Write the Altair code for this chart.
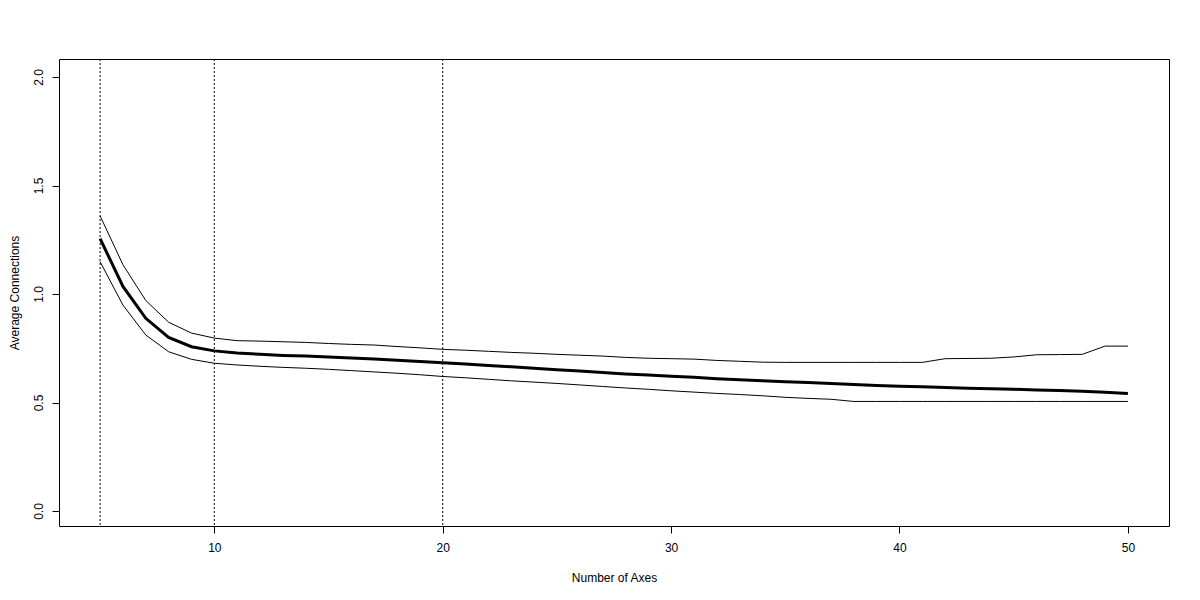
import altair as alt
import pandas as pd

x_vals = list(range(5, 51))

mean_vals = [1.255, 1.035, 0.888, 0.800, 0.757, 0.738, 0.728, 0.722, 0.717, 0.714,
             0.710, 0.705, 0.700, 0.695, 0.689, 0.683, 0.677, 0.671, 0.665, 0.658,
             0.651, 0.645, 0.638, 0.632, 0.627, 0.621, 0.616, 0.610, 0.605, 0.600,
             0.596, 0.592, 0.588, 0.583, 0.578, 0.575, 0.573, 0.569, 0.566, 0.564,
             0.561, 0.558, 0.555, 0.552, 0.547, 0.542]

upper_vals = [1.360, 1.135, 0.970, 0.870, 0.820, 0.797, 0.785, 0.783, 0.780, 0.777,
              0.772, 0.768, 0.765, 0.758, 0.752, 0.745, 0.741, 0.736, 0.731, 0.727,
              0.722, 0.718, 0.714, 0.708, 0.704, 0.702, 0.700, 0.694, 0.690, 0.686,
              0.685, 0.685, 0.685, 0.685, 0.685, 0.685, 0.685, 0.702, 0.703, 0.704,
              0.710, 0.720, 0.721, 0.722, 0.760, 0.760]

lower_vals = [1.149, 0.949, 0.811, 0.734, 0.699, 0.681, 0.673, 0.667, 0.662, 0.658,
              0.653, 0.647, 0.641, 0.635, 0.628, 0.620, 0.614, 0.607, 0.600, 0.594,
              0.588, 0.581, 0.574, 0.567, 0.561, 0.554, 0.548, 0.542, 0.537, 0.531,
              0.524, 0.519, 0.515, 0.505, 0.505, 0.505, 0.505, 0.505, 0.505, 0.505,
              0.505, 0.505, 0.505, 0.505, 0.505, 0.505]

vlines = [5, 10, 20]

x_ticks = [10, 20, 30, 40, 50]
y_ticks = [0.0, 0.5, 1.0, 1.5, 2.0]

mean_df = pd.DataFrame({"x": x_vals, "y": mean_vals})
bounds_df = pd.concat([
    pd.DataFrame({"x": x_vals, "y": upper_vals, "s": "upper"}),
    pd.DataFrame({"x": x_vals, "y": lower_vals, "s": "lower"}),
])
vl_df = pd.DataFrame({"x": vlines})

FONT = "Liberation Sans"

xscale = alt.Scale(domain=[3.2, 51.8], nice=False, zero=False)
yscale = alt.Scale(domain=[-0.069, 2.083], nice=False, zero=False)

xaxis = alt.Axis(values=x_ticks, title="Number of Axes", grid=False, domain=False,
                 tickSize=7, tickColor="black", labelPadding=9, labelFontSize=12,
                 labelFont=FONT, labelColor="black", titleFont=FONT, titleFontSize=12,
                 titleFontWeight="normal", titleColor="black", titlePadding=19, format="d")
yaxis = alt.Axis(values=y_ticks, title="Average Connections", grid=False, domain=False,
                 tickSize=7, tickColor="black", labelPadding=7, labelFontSize=12,
                 labelFont=FONT, labelColor="black", labelAngle=-90, labelAlign="center",
                 labelBaseline="bottom", titleFont=FONT, titleFontSize=12,
                 titleFontWeight="normal", titleColor="black", titlePadding=11, format=".1f")

base_mean = alt.Chart(mean_df).mark_line(color="black", strokeWidth=3).encode(
    x=alt.X("x:Q", scale=xscale, axis=xaxis),
    y=alt.Y("y:Q", scale=yscale, axis=yaxis),
)

bounds = alt.Chart(bounds_df).mark_line(color="black", strokeWidth=1).encode(
    x=alt.X("x:Q", scale=xscale),
    y=alt.Y("y:Q", scale=yscale),
    detail="s:N",
)

rules = alt.Chart(vl_df).mark_rule(color="black", strokeWidth=1, strokeDash=[2, 2]).encode(
    x=alt.X("x:Q", scale=xscale),
)

chart = alt.layer(rules, bounds, base_mean).properties(
    width=1110, height=467,
    autosize=alt.AutoSizeParams(type="none"),
    padding={"left": 51, "top": 51, "right": 20, "bottom": 60},
).configure(
    background="white",
    view=alt.ViewConfig(stroke="black", strokeWidth=1),
)

chart.save("out.html", embed_options={"renderer": "svg", "actions": False})
